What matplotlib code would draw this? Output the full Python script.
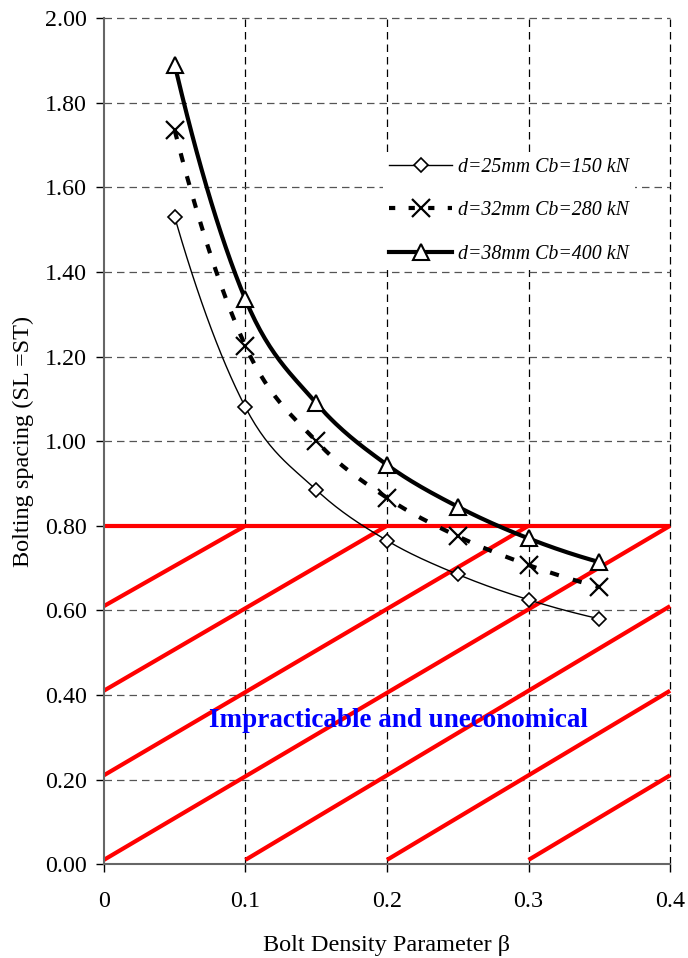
import numpy as np
import matplotlib
matplotlib.use("Agg")
import matplotlib.pyplot as plt
from matplotlib.lines import Line2D

plt.rcParams['font.family'] = ['Liberation Serif', 'DejaVu Serif']
plt.rcParams['mathtext.fontset'] = 'stix'

# Bolt density parameter and bolting spacing for each bolt size
beta = [0.05, 0.10, 0.15, 0.20, 0.25, 0.30, 0.35]
spacing_25 = [1.53, 1.08, 0.885, 0.765, 0.685, 0.625, 0.58]
spacing_32 = [1.735, 1.225, 1.00, 0.866, 0.775, 0.707, 0.655]
spacing_38 = [1.89, 1.335, 1.09, 0.944, 0.845, 0.77, 0.714]
series_labels = ["d=25mm Cb=150 kN", "d=32mm Cb=280 kN", "d=38mm Cb=400 kN"]

# Limit of practicable spacing and hatch segments of the excluded zone
limit_spacing = 0.80
hatch_start_x = [0.0, 0.0, 0.0, 0.0, 0.1, 0.2, 0.3]
hatch_start_y = [0.61, 0.41, 0.21, 0.01, 0.01, 0.01, 0.01]
hatch_end_x = [0.1, 0.2, 0.3, 0.4, 0.4, 0.4, 0.4]
hatch_end_y = [0.80, 0.80, 0.80, 0.80, 0.61, 0.41, 0.21]

x_ticks = [0, 0.1, 0.2, 0.3, 0.4]
x_tick_labels = ["0", "0.1", "0.2", "0.3", "0.4"]
y_ticks = np.arange(0, 2.01, 0.2)


def smooth(xs, ys, n=30):
    """Cubic Hermite curve through the points for a smoothed line."""
    xs = np.asarray(xs, float)
    ys = np.asarray(ys, float)
    h = np.diff(xs)
    d = np.diff(ys) / h
    m = np.empty_like(ys)
    m[1:-1] = 0.5 * (d[:-1] + d[1:])
    m[0] = 0.5 * (3 * d[0] - d[1])
    m[-1] = 0.5 * (3 * d[-1] - d[-2])
    out_x, out_y = [], []
    t = np.linspace(0, 1, n)
    h00 = 2 * t ** 3 - 3 * t ** 2 + 1
    h10 = t ** 3 - 2 * t ** 2 + t
    h01 = -2 * t ** 3 + 3 * t ** 2
    h11 = t ** 3 - t ** 2
    for i in range(len(xs) - 1):
        out_x.extend(xs[i] + t * h[i])
        out_y.extend(h00 * ys[i] + h10 * h[i] * m[i]
                     + h01 * ys[i + 1] + h11 * h[i] * m[i + 1])
    return np.array(out_x), np.array(out_y)


fig = plt.figure(figsize=(6.88, 9.58), dpi=100)
ax = fig.add_axes([0.151, 0.098, 0.823, 0.883])

ax.set_xlim(0, 0.4)
ax.set_ylim(0, 2.0)

# Grid
for xv in x_ticks[1:]:
    ax.axvline(xv, color='black', lw=0.9, ls=(0, (6, 4)), zorder=1,
               clip_on=False)
for yv in y_ticks[1:]:
    ax.axhline(yv, color='#555555', lw=0.9, ls=(0, (6, 4)), zorder=1,
               clip_on=False)

# Excluded zone
red = '#ff0000'
ax.plot([0, 0.4], [limit_spacing, limit_spacing], color=red, lw=3.0,
        solid_capstyle='butt', zorder=2)
for x0, y0, x1, y1 in zip(hatch_start_x, hatch_start_y, hatch_end_x, hatch_end_y):
    ax.plot([x0, x1], [y0, y1], color=red, lw=3.0, solid_capstyle='butt',
            zorder=2, clip_on=False)

# Series
sx, sy = smooth(beta, spacing_25)
ax.plot(sx, sy, color='black', lw=1.0, zorder=3)
ax.plot(beta, spacing_25, ls='none', marker='D', ms=7, mfc='white',
        mec='black', mew=1.2, zorder=4)

sx, sy = smooth(beta, spacing_32)
ax.plot(sx, sy, color='black', lw=3.0, ls=(0, (2.2, 3.5)), zorder=3)
ax.plot(beta, spacing_32, ls='none', marker='x', ms=13, mec='black',
        mew=1.6, zorder=4)

sx, sy = smooth(beta, spacing_38)
ax.plot(sx, sy, color='black', lw=3.0, zorder=3)
ax.plot(beta, spacing_38, ls='none', marker='^', ms=11, mfc='white',
        mec='black', mew=1.5, zorder=4)

# Legend
handles = [
    Line2D([], [], color='black', lw=1.0, marker='D', ms=7, mfc='white',
           mec='black', mew=1.2),
    Line2D([], [], color='black', lw=3.0, ls=(0, (1.5, 3.2)), marker='x',
           ms=13, mec='black', mew=1.6),
    Line2D([], [], color='black', lw=3.0, marker='^', ms=11, mfc='white',
           mec='black', mew=1.5),
]
leg = ax.legend(handles, series_labels, loc='upper left',
                bbox_to_anchor=(0.475, 0.854), frameon=True, fancybox=False,
                edgecolor='none', facecolor='white', framealpha=1,
                handlelength=3.2, handletextpad=0.3, labelspacing=1.25,
                borderpad=0.3,
                prop={'family': 'Liberation Serif', 'style': 'italic',
                      'size': 14.3})
leg.set_zorder(5)

ax.text(0.208, 0.34, "Impracticable and uneconomical", color='#0000ff',
        fontsize=19.5, fontweight='bold', ha='center', va='center', zorder=6)

# Axes styling
for side in ('top', 'right'):
    ax.spines[side].set_visible(False)
for side in ('left', 'bottom'):
    ax.spines[side].set_color('#666666')
    ax.spines[side].set_linewidth(1.5)

ax.set_xticks(x_ticks)
ax.set_xticklabels(x_tick_labels)
ax.set_yticks(y_ticks)
ax.set_yticklabels([f"{v:.2f}" for v in y_ticks])
ax.tick_params(direction='out', length=6, width=1, colors='black',
               labelsize=17.3)
ax.tick_params(axis='x', pad=13)
ax.tick_params(axis='y', pad=6)

ax.set_xlabel("Bolt Density Parameter β", fontsize=17.5, labelpad=17)
ax.set_ylabel("Bolting spacing (SL =ST)", fontsize=17.5, labelpad=8)

fig.savefig("out.png", dpi=100)
